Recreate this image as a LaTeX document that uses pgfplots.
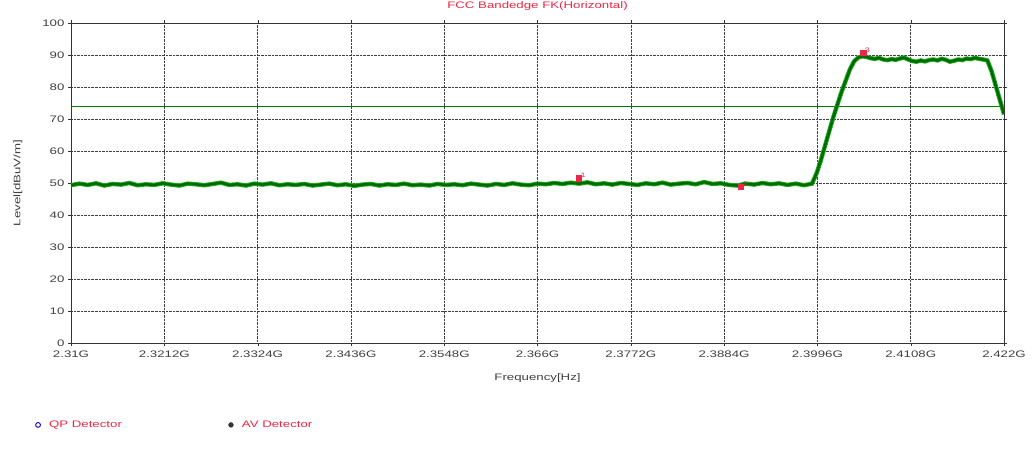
\documentclass[border=0pt]{standalone}
\usepackage{fontspec}
\setmainfont[FakeStretch=1.4]{Liberation Sans}
\usepackage{pgfplots}
\pgfplotsset{compat=1.18}
\definecolor{trace}{RGB}{0,105,0}
\definecolor{traceL}{RGB}{30,175,30}
\definecolor{lim}{RGB}{0,125,0}
\definecolor{ttl}{RGB}{232,40,70}
\begin{document}
\begin{tikzpicture}
\begin{axis}[
  scale only axis, width=933bp, height=320bp,
  xmin=0, xmax=112, ymin=0, ymax=100,
  xtick={0,11.2,22.4,33.6,44.8,56,67.2,78.4,89.6,100.8,112},
  xticklabels={2.31G,2.3212G,2.3324G,2.3436G,2.3548G,2.366G,2.3772G,2.3884G,2.3996G,2.4108G,2.422G},
  ytick={0,10,20,30,40,50,60,70,80,90,100},
  grid=major,
  major grid style={densely dotted, black!75, line width=0.6bp},
  axis line style={black!80},
  tick align=outside, major tick length=3bp, tick style={black!80},
  /pgf/number format/assume math mode=true,
  font=\fontsize{9.5}{11}\selectfont,
  tick label style={font=\fontsize{9.5}{11}\selectfont, text=black!75},
  xticklabel style={yshift=-1bp},
  title={FCC Bandedge FK(Horizontal)},
  title style={text=ttl, at={(axis description cs:0.5,1.034)}, anchor=center, font=\fontsize{9.5}{11}\selectfont},
  xlabel={Frequency[Hz]},
  xlabel style={at={(axis description cs:0.5,-0.109)}, anchor=center, text=black!75},
  ylabel={Level[dBuV/m]},
  ylabel style={at={(axis description cs:-0.057,0.5)}, anchor=center, text=black!75},
  legend style={at={(axis description cs:-0.043,-0.256)}, anchor=west, draw=none, fill=none,
     text=ttl, font=\fontsize{9.5}{11}\selectfont, legend columns=2,
     legend image code/.code={\path[draw=none,fill=none] (0bp,-2bp) rectangle (13bp,2bp); \draw[mark repeat=2,mark phase=2,#1] plot coordinates {(0bp,0bp) (4bp,0bp) (13bp,0bp)};},
     /tikz/every even column/.append style={column sep=103bp}},
]
\addlegendimage{only marks, mark=o, blue!70!black, mark size=2.4bp, line width=0.9bp}
\addlegendentry{QP Detector}
\addlegendimage{only marks, mark=*, black!80, mark size=2.4bp}
\addlegendentry{AV Detector}

\addplot[lim, line width=1.2bp, forget plot] coordinates {(0,74) (112,74)};

\pgfplotstableread{
x y
0 49.3
1 49.8
2 49.4
3 49.9
4 49.2
5 49.7
6 49.5
7 50.0
8 49.3
9 49.6
10 49.4
11 49.9
12 49.5
13 49.2
14 49.8
15 49.6
16 49.3
17 49.7
18 50.1
19 49.4
20 49.6
21 49.2
22 49.8
23 49.5
24 49.9
25 49.3
26 49.6
27 49.4
28 49.7
29 49.2
30 49.5
31 49.8
32 49.3
33 49.6
34 49.1
35 49.5
36 49.7
37 49.2
38 49.6
39 49.4
40 49.8
41 49.3
42 49.5
43 49.2
44 49.7
45 49.4
46 49.6
47 49.3
48 49.8
49 49.5
50 49.2
51 49.7
52 49.4
53 49.9
54 49.5
55 49.3
56 49.8
57 49.6
58 50.0
59 49.7
60 50.1
61 49.8
62 50.2
63 49.6
64 49.9
65 49.5
66 50.0
67 49.7
68 49.4
69 49.9
70 49.6
71 50.1
72 49.5
73 49.8
74 50.0
75 49.6
76 50.3
77 49.7
78 49.9
79 49.4
80 49.2
81 49.8
82 49.5
83 50.0
84 49.6
85 49.9
86 49.4
87 49.8
88 49.3
88.95 49.8
89.5 53.0
90 57.0
90.5 61.5
91 66.0
91.5 70.5
92 74.5
92.5 78.5
93 82.0
93.5 85.5
94 88.0
94.5 89.2
95 89.6
95.5 89.4
96 89.0
96.5 88.8
97 89.1
97.5 88.6
98 88.4
98.5 88.7
99 88.5
99.5 88.9
100 89.2
100.5 88.6
101 88.1
101.5 87.9
102 88.3
102.5 88.0
103 88.4
103.5 88.6
104 88.3
104.5 88.8
105 88.5
105.5 87.9
106 88.2
106.5 88.6
107 88.4
107.5 88.9
108 88.7
108.5 89.1
109 88.8
109.5 88.6
110 88.3
110.5 85.0
111 80.5
111.5 76.0
112 71.5
}\trace
\addplot[traceL, line width=4.4bp, forget plot] table[x=x,y=y] {\trace};
\addplot[trace, line width=2.6bp, forget plot] table[x=x,y=y] {\trace};

\addplot[only marks, mark=square*, mark size=2.6bp, color=ttl, forget plot,
  point meta=explicit symbolic,
  nodes near coords, nodes near coords style={font=\fontsize{6.5}{6.5}\selectfont, text=ttl, anchor=south west, inner sep=0.5bp, xshift=1bp}]
  coordinates {(60.98,51.5) [1] (80.4,48.8) [2] (95.1,90.6) [3]};
\end{axis}
\pgfresetboundingbox
\path (-71bp,-116bp) rectangle (963bp,343bp);
\end{tikzpicture}
\end{document}
